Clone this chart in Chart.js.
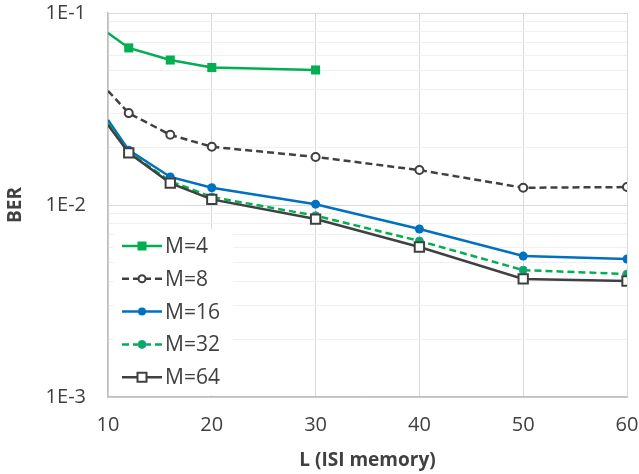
<!DOCTYPE html>
<html>
<head>
<meta charset="utf-8">
<script src="https://cdn.jsdelivr.net/npm/chart.js"></script>
<style>
  body { margin: 0; background: #fff; }
  canvas { display: block; }
</style>
</head>
<body>
<canvas id="berChart" width="639" height="474"></canvas>
<script>
// L (ISI memory) values
const lValues = [10, 12, 16, 20, 30, 40, 50, 60]
const lValuesM4 = [10, 12, 16, 20, 30]

// BER
const berM4 = [0.0787, 0.0658, 0.0569, 0.0520, 0.0505]
const berM8 = [0.0393, 0.0301, 0.0232, 0.0201, 0.0178, 0.0152, 0.0123, 0.0124]
const berM16 = [0.0277, 0.0193, 0.0140, 0.0123, 0.0101, 0.0075, 0.00542, 0.00523]
const berM32 = [0.0266, 0.0188, 0.0133, 0.0110, 0.0088, 0.0065, 0.00458, 0.00437]
const berM64 = [0.0261, 0.0187, 0.0130, 0.0107, 0.00845, 0.00604, 0.00412, 0.00402]

const seriesNames = ['M=4', 'M=8', 'M=16', 'M=32', 'M=64']
const xTickValues = [10, 20, 30, 40, 50, 60]
const yTickLabels = ['1E-3', '1E-2', '1E-1']

const green = '#00b050'
const blue = '#0070c0'
const dark = '#404040'
const fontName = "'Open Sans', sans-serif"

function toPoints(xs, ys) {
	return ys.map(function (y, i) { return { x: xs[i], y: y } })
}

// no marker at the left edge (L = 10)
function radii(n, r) {
	var out = []
	for (var i = 0; i < n; i++) out.push(i === 0 ? 0 : r)
	return out
}

function isMajor(v) {
	var l = Math.log10(v)
	return Math.abs(l - Math.round(l)) < 1e-6
}

var datasets = [{
	label: seriesNames[0],
	data: toPoints(lValuesM4, berM4),
	borderColor: green,
	backgroundColor: green,
	borderWidth: 2.5,
	pointStyle: 'rect',
	pointRadius: radii(berM4.length, 6.4),
	pointBackgroundColor: green,
	pointBorderColor: green,
	pointBorderWidth: 0,
	order: 4,
	legendSize: 4.5
}, {
	label: seriesNames[1],
	data: toPoints(lValues, berM8),
	borderColor: dark,
	backgroundColor: '#fff',
	borderWidth: 2.5,
	borderDash: [7, 4],
	pointStyle: 'circle',
	pointRadius: radii(berM8.length, 4),
	pointBackgroundColor: '#fff',
	pointBorderColor: dark,
	pointBorderWidth: 2,
	order: 3,
	legendSize: 3.5
}, {
	label: seriesNames[2],
	data: toPoints(lValues, berM16),
	borderColor: blue,
	backgroundColor: blue,
	borderWidth: 2.5,
	pointStyle: 'circle',
	pointRadius: radii(berM16.length, 4.5),
	pointBackgroundColor: blue,
	pointBorderColor: blue,
	pointBorderWidth: 0,
	order: 2,
	legendSize: 4
}, {
	label: seriesNames[3],
	data: toPoints(lValues, berM32),
	borderColor: green,
	backgroundColor: green,
	borderWidth: 2.5,
	borderDash: [7, 4],
	pointStyle: 'circle',
	pointRadius: radii(berM32.length, 4),
	pointBackgroundColor: green,
	pointBorderColor: '#3c8fcf',
	pointBorderWidth: 1,
	order: 1,
	legendSize: 4
}, {
	label: seriesNames[4],
	data: toPoints(lValues, berM64),
	borderColor: dark,
	backgroundColor: '#fff',
	borderWidth: 2.5,
	pointStyle: 'rect',
	pointRadius: radii(berM64.length, 6.6),
	pointBackgroundColor: '#fff',
	pointBorderColor: dark,
	pointBorderWidth: 2,
	order: 0,
	legendSize: 4.5
}]

// Legend drawn inside the plot, lines + markers like the original
const insideLegend = {
	id: 'insideLegend',
	afterDatasetsDraw: function (chart) {
		var ctx = chart.ctx
		ctx.save()
		ctx.fillStyle = '#fff'
		ctx.fillRect(114, 229, 119, 166)
		chart.data.datasets.forEach(function (ds, i) {
			var y = 246 + i * 32.8
			var cx = 142
			ctx.strokeStyle = ds.borderColor
			ctx.lineWidth = 2.5
			ctx.setLineDash(ds.borderDash || [])
			ctx.beginPath()
			ctx.moveTo(122, y)
			ctx.lineTo(162, y)
			ctx.stroke()
			ctx.setLineDash([])
			var s = ds.legendSize
			ctx.fillStyle = ds.pointBackgroundColor
			ctx.strokeStyle = ds.pointBorderColor
			ctx.lineWidth = ds.pointBorderWidth
			ctx.beginPath()
			if (ds.pointStyle === 'rect') {
				ctx.rect(cx - s, y - s, 2 * s, 2 * s)
			} else {
				ctx.arc(cx, y, s, 0, Math.PI * 2)
			}
			ctx.fill()
			if (ds.pointBorderWidth > 0) ctx.stroke()
			ctx.fillStyle = dark
			ctx.font = '21px ' + fontName
			ctx.textBaseline = 'middle'
			ctx.textAlign = 'left'
			ctx.fillText(ds.label, 165, y + 1)
		})
		ctx.restore()
	}
}

var ctx = document.getElementById('berChart')
var berChart = new Chart(ctx, {
	type: 'line',
	data: { datasets: datasets },
	plugins: [insideLegend],
	options: {
		responsive: false,
		animation: false,
		layout: { padding: 0 },
		plugins: {
			legend: { display: false },
			tooltip: { enabled: false }
		},
		scales: {
			x: {
				type: 'linear',
				min: 10,
				max: 60,
				afterBuildTicks: function (scale) {
					scale.ticks = xTickValues.map(function (v) { return { value: v } })
				},
				afterFit: function (scale) {
					scale.height = 77
					scale.paddingRight = 12
				},
				grid: { color: '#d9d9d9', lineWidth: 1, drawTicks: false, tickLength: 0 },
				border: { color: '#bfbfbf', width: 1.5 },
				ticks: {
					color: dark,
					font: { family: fontName, size: 20 },
					padding: 16,
					maxRotation: 0,
					autoSkip: false
				},
				title: {
					display: true,
					text: 'L (ISI memory)',
					color: dark,
					font: { family: fontName, size: 19, weight: 'bold' },
					padding: { top: 0, bottom: 2 }
				}
			},
			y: {
				type: 'logarithmic',
				min: 0.001,
				max: 0.1,
				afterBuildTicks: function (scale) {
					var t = []
					for (var e = -3; e < -1; e++) {
						for (var d = 1; d <= 9; d++) t.push({ value: d * Math.pow(10, e) })
					}
					t.push({ value: 0.1 })
					scale.ticks = t
				},
				afterFit: function (scale) {
					scale.width = 108
					scale.paddingTop = 13
				},
				grid: {
					color: function (c) {
						return c.tick && isMajor(c.tick.value) ? '#d9d9d9' : '#f0f0f0'
					},
					lineWidth: 1,
					drawTicks: false,
					tickLength: 0
				},
				border: { color: '#bfbfbf', width: 1.5 },
				ticks: {
					color: dark,
					font: { family: fontName, size: 20 },
					padding: 22,
					autoSkip: false,
					callback: function (value) {
						if (!isMajor(value)) return ''
						return yTickLabels[Math.round(Math.log10(value)) + 3]
					}
				},
				title: {
					display: true,
					text: 'BER',
					color: dark,
					font: { family: fontName, size: 19, weight: 'bold' },
					padding: { top: 4, bottom: 0 }
				}
			}
		}
	}
})
</script>
</body>
</html>
